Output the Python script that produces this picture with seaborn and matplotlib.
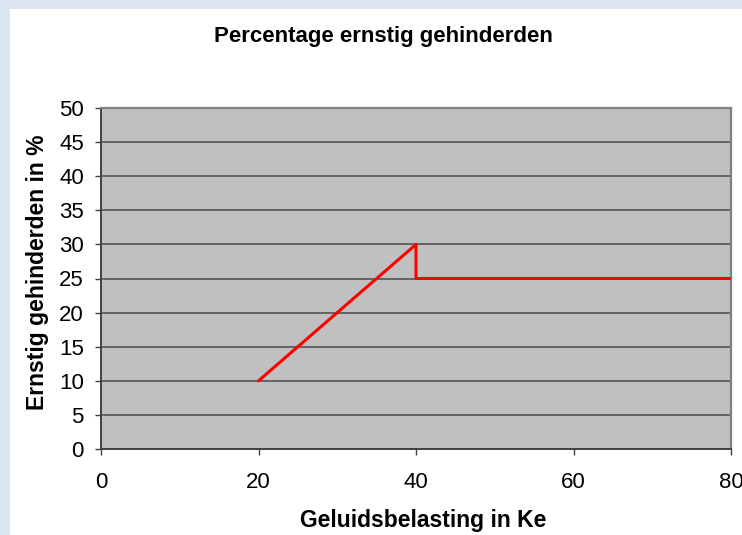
import matplotlib
matplotlib.use("Agg")
import matplotlib.pyplot as plt
import seaborn as sns
import pandas as pd
from matplotlib.patches import Rectangle

# ── Data ──────────────────────────────────────────────────────────────────────
belasting = [20, 40, 40, 80]          # Ke
gehinderd = [10, 30, 25, 25]          # % ernstig gehinderden
x_ticks = [0, 20, 40, 60, 80]
y_ticks = list(range(0, 55, 5))

df = pd.DataFrame({"Ke": belasting, "pct": gehinderd})

sns.set_style("white")
plt.rcParams["font.family"] = ["Liberation Sans", "DejaVu Sans"]
plt.rcParams["text.color"] = "black"

fig = plt.figure(figsize=(7.42, 5.35), dpi=100)
fig.patch.set_facecolor("#dbe5f1")
W, H = 742, 535
# white chart area inside the light-blue frame
fig.patches.append(Rectangle((10 / W, 0), 1, 1 - 9 / H, transform=fig.transFigure,
                             facecolor="white", edgecolor="none", zorder=-10))

ax = fig.add_axes([101 / W, 1 - 449 / H, (731 - 101) / W, (449 - 108) / H])
ax.set_facecolor("#c0c0c0")

sns.lineplot(data=df, x="Ke", y="pct", sort=False, estimator=None,
             color="#ff0000", linewidth=2.2, ax=ax, zorder=3)

ax.set_xlim(0, 80)
ax.set_ylim(0, 50)
ax.set_xticks(x_ticks)
ax.set_yticks(y_ticks)
for yv in y_ticks[1:-1]:
    ax.axhline(yv, color="#4a4a4a", linewidth=1.1, zorder=1)

for side in ["top", "right"]:
    ax.spines[side].set_visible(True)
    ax.spines[side].set_color("#808080")
    ax.spines[side].set_linewidth(1.6)
for side in ["left", "bottom"]:
    ax.spines[side].set_color("#404040")
    ax.spines[side].set_linewidth(1.4)

ax.tick_params(axis="y", direction="out", length=4.3, width=1, color="#404040",
               labelsize=16, labelcolor="black", pad=8, left=True)
ax.tick_params(axis="x", direction="out", length=4.3, width=1, color="#404040",
               labelsize=16, labelcolor="black", pad=12, bottom=True)

ax.set_xlabel("Geluidsbelasting in Ke", fontsize=16.5, fontweight="bold", color="black")
ax.xaxis.set_label_coords((423 - 101) / 630, (449 - 520) / 341)
ax.xaxis.label.set_va("center")
ax.set_ylabel("Ernstig gehinderden in %", fontsize=16.5, fontweight="bold", color="black")
ax.yaxis.set_label_coords((37 - 101) / 630, (449 - 272) / 341)
ax.yaxis.label.set_va("center")

fig.text(383 / W, 1 - 37 / H, "Percentage ernstig gehinderden", ha="center", va="center",
         fontsize=16, fontweight="bold", color="black")

fig.savefig("out.png", dpi=100, facecolor=fig.get_facecolor())
